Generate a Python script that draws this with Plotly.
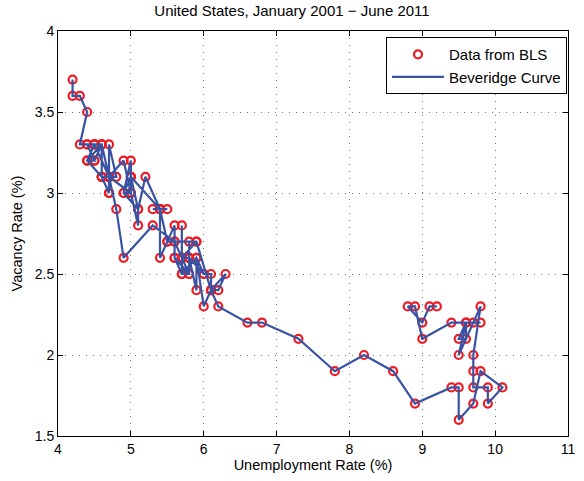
import plotly.graph_objects as go

# Monthly unemployment rate (%) and job vacancy rate (%), Jan 2001 - Jun 2011
unemployment = [
    # 2001
    4.2, 4.2, 4.3, 4.4, 4.3, 4.5, 4.6, 4.8, 4.9, 5.3, 5.6, 5.7,
    # 2002
    5.7, 5.7, 5.7, 5.9, 5.8, 5.8, 5.8, 5.7, 5.7, 5.7, 5.9, 6.0,
    # 2003
    5.8, 5.9, 5.9, 6.0, 6.1, 6.3, 6.2, 6.1, 6.1, 6.0, 5.8, 5.7,
    # 2004
    5.7, 5.6, 5.8, 5.6, 5.6, 5.6, 5.5, 5.4, 5.4, 5.5, 5.4, 5.4,
    # 2005
    5.3, 5.4, 5.2, 5.1, 5.1, 5.0, 5.0, 4.9, 5.0, 5.0, 5.0, 4.9,
    # 2006
    4.7, 4.8, 4.7, 4.7, 4.6, 4.6, 4.7, 4.7, 4.5, 4.4, 4.5, 4.4,
    # 2007
    4.6, 4.5, 4.4, 4.5, 4.4, 4.6, 4.7, 4.6, 4.7, 4.7, 4.7, 5.0,
    # 2008
    5.0, 4.9, 5.1, 5.0, 5.4, 5.5, 5.9, 6.1, 6.2, 6.6, 6.8, 7.3,
    # 2009
    7.8, 8.2, 8.6, 8.9, 9.4, 9.5, 9.5, 9.7, 9.8, 10.1, 9.9, 9.9,
    # 2010
    9.7, 9.7, 9.7, 9.8, 9.5, 9.6, 9.5, 9.6, 9.6, 9.7, 9.8, 9.4,
    # 2011
    9.0, 8.9, 8.8, 9.0, 9.1, 9.2,
]

vacancy = [
    # 2001
    3.7, 3.6, 3.6, 3.5, 3.3, 3.3, 3.3, 2.9, 2.6, 2.8, 2.7, 2.6,
    # 2002
    2.6, 2.8, 2.6, 2.7, 2.7, 2.6, 2.5, 2.5, 2.6, 2.5, 2.6, 2.5,
    # 2003
    2.6, 2.4, 2.6, 2.3, 2.4, 2.5, 2.4, 2.4, 2.5, 2.5, 2.6, 2.6,
    # 2004
    2.5, 2.6, 2.5, 2.7, 2.6, 2.8, 2.7, 2.6, 2.9, 2.9, 2.9, 2.9,
    # 2005
    2.9, 2.9, 3.1, 2.9, 2.8, 3.0, 3.1, 3.0, 3.2, 3.1, 3.0, 3.2,
    # 2006
    3.1, 3.1, 3.3, 3.1, 3.3, 3.1, 3.0, 3.1, 3.3, 3.3, 3.2, 3.2,
    # 2007
    3.3, 3.2, 3.3, 3.3, 3.2, 3.1, 3.0, 3.1, 3.1, 3.0, 3.1, 3.0,
    # 2008
    3.0, 3.0, 2.9, 3.1, 2.9, 2.7, 2.7, 2.4, 2.3, 2.2, 2.2, 2.1,
    # 2009
    1.9, 2.0, 1.9, 1.7, 1.8, 1.8, 1.6, 1.7, 1.9, 1.8, 1.7, 1.8,
    # 2010
    1.8, 1.9, 2.0, 2.3, 2.0, 2.2, 2.1, 2.1, 2.2, 2.2, 2.2, 2.2,
    # 2011
    2.1, 2.3, 2.3, 2.2, 2.3, 2.3,
]

x_ticks = [4, 5, 6, 7, 8, 9, 10, 11]
x_tick_labels = ["4", "5", "6", "7", "8", "9", "10", "11"]
y_ticks = [1.5, 2, 2.5, 3, 3.5, 4]
y_tick_labels = ["1.5", "2", "2.5", "3", "3.5", "4"]

RED = "rgb(236,28,36)"
BLUE = "rgb(57,83,164)"
FONT = "Liberation Sans, Arial, Helvetica, sans-serif"

fig = go.Figure()

fig.add_trace(go.Scatter(
    x=unemployment, y=vacancy,
    mode="markers",
    name="Data from BLS",
    marker=dict(symbol="circle-open", size=8, color=RED,
                line=dict(color=RED, width=2.2)),
))

fig.add_trace(go.Scatter(
    x=unemployment, y=vacancy,
    mode="lines",
    name="Beveridge Curve",
    line=dict(color=BLUE, width=2.2),
))

axis_common = dict(
    showline=True, linecolor="black", linewidth=1, mirror="ticks",
    ticks="inside", ticklen=5, tickcolor="black", tickwidth=1,
    showgrid=True, gridcolor="rgba(70,70,70,0.75)", griddash="1px,6px", gridwidth=1,
    zeroline=False,
    tickfont=dict(family=FONT, size=14, color="black"),
)

fig.update_xaxes(
    range=[4, 11], tickvals=x_ticks, ticktext=x_tick_labels,
    title=dict(text="Unemployment Rate (%)", font=dict(family=FONT, size=14.5, color="black"),
               standoff=4),
    **axis_common,
)
fig.update_yaxes(
    range=[1.5, 4], tickvals=y_ticks, ticktext=y_tick_labels,
    title=dict(text="Vacancy Rate (%)", font=dict(family=FONT, size=14.5, color="black"),
               standoff=8),
    **axis_common,
)

fig.update_layout(
    width=584, height=481,
    margin=dict(l=58, r=9, t=31, b=45),
    paper_bgcolor="white", plot_bgcolor="white",
    title=dict(text="United States, January 2001 \u2212 June 2011",
               font=dict(family=FONT, size=15, color="black"),
               x=0.5, xanchor="center", y=0.988, yanchor="top"),
    font=dict(family=FONT, size=14, color="black"),
    showlegend=True,
    legend=dict(
        x=0.998, y=0.985, xanchor="right", yanchor="top",
        bgcolor="white", bordercolor="black", borderwidth=1,
        font=dict(family=FONT, size=15, color="black"),
        itemwidth=52, tracegroupgap=0,
    ),
)

fig.write_html("out.html")
